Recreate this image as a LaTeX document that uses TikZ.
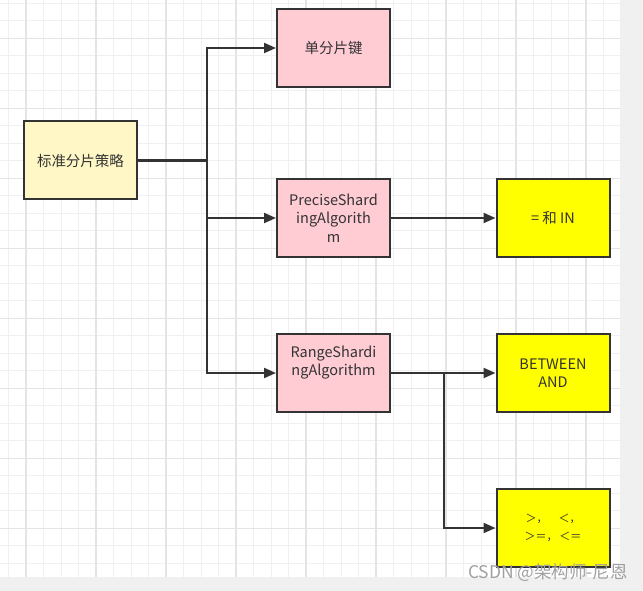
\documentclass[tikz,border=0pt]{standalone}
\usepackage{fontspec}
\setmainfont{Noto Sans CJK SC}
\usetikzlibrary{arrows.meta}
\definecolor{edge}{HTML}{333333}
\definecolor{txt}{HTML}{333333}
\definecolor{lyellow}{HTML}{FFF8C6}
\definecolor{pinkfill}{HTML}{FFCCD4}
\definecolor{yfill}{HTML}{FFFF00}
\definecolor{gminor}{HTML}{F0F0F0}
\definecolor{gmajor}{HTML}{E4E4E4}
\definecolor{strip}{HTML}{F0F0F0}
\definecolor{wm}{HTML}{A0A0A0}
\tikzset{
  box/.style={draw=edge, line width=2pt, minimum width=113pt, minimum height=78pt,
    inner sep=2pt, align=center, text=txt, font=\fontsize{14.5}{18.5}\selectfont},
  rootbox/.style={box, fill=lyellow},
  pinkbox/.style={box, fill=pinkfill},
  yelbox/.style={box, fill=yfill},
  conn/.style={draw=edge, line width=2pt, -{Triangle[length=12pt,width=10pt]}},
  plain/.style={draw=edge, line width=2pt},
}
\begin{document}
\begin{tikzpicture}[x=1pt,y=-1pt]
\useasboundingbox (0,0) rectangle (643,591);
\fill[strip] (0,0) rectangle (643,591);
\fill[white] (0,0) rectangle (620,577);
% grid
\foreach \k in {0,...,34}{
  \draw[gminor, line width=1pt] ({8.5+17.5*\k},0) -- ({8.5+17.5*\k},577);
}
\foreach \k in {0,...,32}{
  \draw[gminor, line width=1pt] (0,{3.3+17.5*\k}) -- (620,{3.3+17.5*\k});
}
\foreach \k in {0,...,8}{
  \draw[gmajor, line width=1.2pt] ({26+70*\k},0) -- ({26+70*\k},577);
}
\foreach \k in {0,...,7}{
  \draw[gmajor, line width=1.2pt] (0,{38.3+70*\k}) -- (620,{38.3+70*\k});
}
% nodes
\node[rootbox] (root) at (80.5,160.5) {标准分片策略};
\node[pinkbox] (single) at (333.5,48) {单分片键};
\node[pinkbox] (precise) at (333.5,218) {PreciseShard\\ingAlgorith\\m};
\node[pinkbox] (range) at (333.5,373) {RangeShardi\\ngAlgorithm\\\strut};
\node[yelbox] (eqin) at (553,218) {= 和 IN};
\node[yelbox] (between) at (553,373) {BETWEEN\\AND};
\node[yelbox, font=\fontsize{11}{18}\selectfont] (cmp) at (553,528) {＞，　＜，\\＞＝，\,＜＝};
% connectors
\coordinate (j) at (207,160.5);
\draw[plain, line width=3pt] (root.east) -- (j);
\draw[conn] (j) |- (single.west);
\draw[conn] (j) |- (precise.west);
\draw[conn] (j) |- (range.west);
\draw[conn] (precise.east) -- (eqin.west);
\draw[conn] (range.east) -- (between.west);
\coordinate (b) at (444,373);
\draw[conn] (b) |- (cmp.west);
% watermark
\node[text=wm, font=\fontsize{17.5}{19}\selectfont, inner sep=0pt] (wmk) at (548,573) {CSDN @架构师-尼恩};
\end{tikzpicture}
\end{document}
